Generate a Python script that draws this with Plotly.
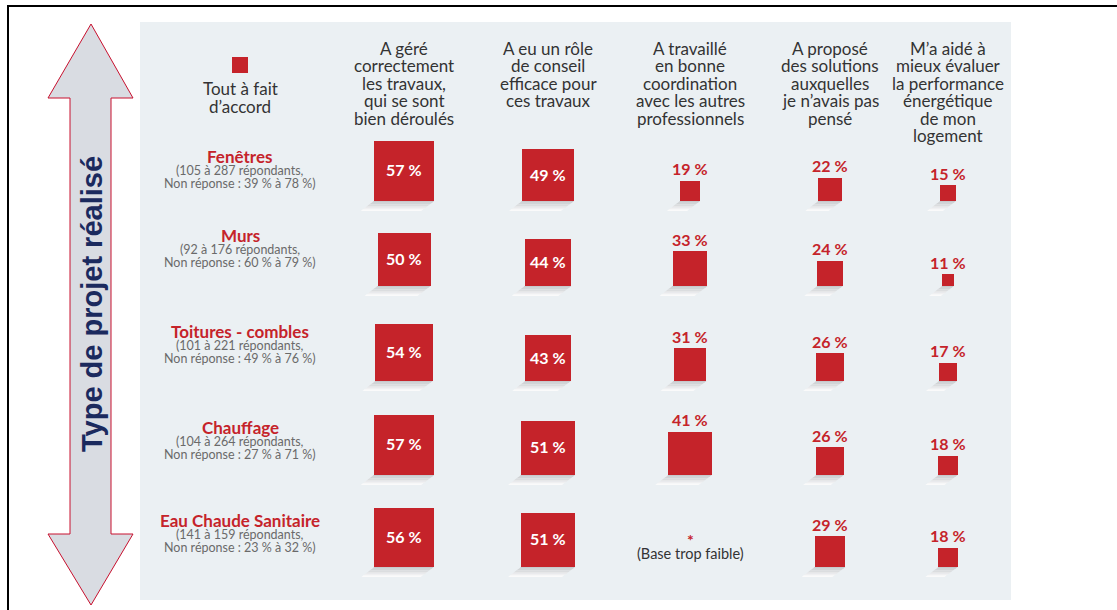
import plotly.graph_objects as go

# ---------------- data ----------------
columns = [
    ["A géré", "correctement", "les travaux,", "qui se sont", "bien déroulés"],
    ["A eu un rôle", "de conseil", "efficace pour", "ces travaux"],
    ["A travaillé", "en bonne", "coordination", "avec les autres", "professionnels"],
    ["A proposé", "des solutions", "auxquelles", "je n’avais pas", "pensé"],
    ["M’a aidé à", "mieux évaluer", "la performance", "énergétique", "de mon", "logement"],
]
row_titles = ["Fenêtres", "Murs", "Toitures - combles", "Chauffage", "Eau Chaude Sanitaire"]
row_bases = [
    ["(105 à 287 répondants,", "Non réponse : 39 % à 78 %)"],
    ["(92 à 176 répondants,", "Non réponse : 60 % à 79 %)"],
    ["(101 à 221 répondants,", "Non réponse : 49 % à 76 %)"],
    ["(104 à 264 répondants,", "Non réponse : 27 % à 71 %)"],
    ["(141 à 159 répondants,", "Non réponse : 23 % à 32 %)"],
]
fenetres = [57, 49, 19, 22, 15]
murs = [50, 44, 33, 24, 11]
toitures = [54, 43, 31, 26, 17]
chauffage = [57, 51, 41, 26, 18]
eau_chaude = [56, 51, None, 29, 18]
values = [fenetres, murs, toitures, chauffage, eau_chaude]
legend_label = ["Tout à fait", "d’accord"]
axis_title = "Type de projet réalisé"
low_base_text = "(Base trop faible)"

# ---------------- layout constants ----------------
W, H = 1117, 610
RED = "#C5232A"
GREY_TXT = "#333333"
SUB_TXT = "#6A6A6A"
NAVY = "#1B2A5E"
FONT = "Lato"
col_x = [404, 548, 690, 830, 948]
row_bottom = [201, 286, 381, 475, 567]
row_label_y = [156, 235, 331, 427, 520]
label_x = 240
K = 1.06  # px per percentage point (square side)

fig = go.Figure()

shapes = []
# outer frame lines
shapes.append(dict(type="line", x0=7, x1=W, y0=6, y1=6, line=dict(color="black", width=2)))
shapes.append(dict(type="line", x0=8, x1=8, y0=5, y1=H, line=dict(color="black", width=2)))
# panel
shapes.append(dict(type="rect", x0=140, x1=1011, y0=22, y1=600, fillcolor="#EBF0F3",
                   line=dict(width=0), layer="below"))
# double arrow
arrow = ("M 91,24 L 133,98 L 111,98 L 111,534 L 133,534 L 91,605 "
         "L 48,534 L 70,534 L 70,98 L 48,98 Z")
shapes.append(dict(type="path", path=arrow, fillcolor="#D9DCE2",
                   line=dict(color="#C8102E", width=1)))
# legend square
shapes.append(dict(type="rect", x0=232, x1=248, y0=57, y1=73, fillcolor=RED, line=dict(width=0)))

# shadows under squares (gradient approximated by slices)
def hexmix(c1, c2, t):
    a = [int(c1[i:i + 2], 16) for i in (1, 3, 5)]
    b = [int(c2[i:i + 2], 16) for i in (1, 3, 5)]
    return "#" + "".join(f"{round(a[i] + (b[i] - a[i]) * t):02X}" for i in range(3))

NS = 6
SH_H, SH_DX = 10, 13
bx, bbase, bh, bw = [], [], [], []
for r, row in enumerate(values):
    for c, v in enumerate(row):
        if v is None:
            continue
        s = v * K
        x0, x1 = col_x[c] - s / 2, col_x[c] + s / 2
        b = row_bottom[r]
        for i in range(NS):
            t0, t1 = i / NS, (i + 1) / NS
            ya, yb = b + SH_H * t0, b + SH_H * t1
            da, db = SH_DX * t0, SH_DX * t1
            p = (f"M {x0 - da},{ya} L {x1 - da},{ya} L {x1 - db},{yb} L {x0 - db},{yb} Z")
            shapes.append(dict(type="path", path=p, fillcolor=hexmix("#C2C5C8", "#FFFFFF", (i + 0.5) / NS),
                               line=dict(width=0)))
        bx.append(col_x[c])
        bbase.append(b)
        bh.append(-s)
        bw.append(s)

fig.add_trace(go.Bar(x=bx, y=bh, base=bbase, width=bw, marker=dict(color=RED, line=dict(width=0)),
                     hoverinfo="skip", showlegend=False))

ann = []

def text_lines(lines, x, y0, dy, size, color, weight="normal"):
    for i, l in enumerate(lines):
        ann.append(dict(x=x, y=y0 + i * dy, text=l, showarrow=False, xanchor="center", yanchor="middle",
                        font=dict(family=FONT, size=size, color=color, weight=weight)))

# column headers
for c, lines in enumerate(columns):
    text_lines(lines, col_x[c], 48, 17.5, 17, GREY_TXT)
# legend label
text_lines(legend_label, label_x, 88, 18, 17, GREY_TXT)
# row labels
for r in range(len(row_titles)):
    text_lines([row_titles[r]], label_x, row_label_y[r], 0, 17, RED, "bold")
    text_lines(row_bases[r], label_x, row_label_y[r] + 14.5, 13, 12.5, SUB_TXT)

# value labels
for r, row in enumerate(values):
    for c, v in enumerate(row):
        b = row_bottom[r]
        if v is None:
            ann.append(dict(x=col_x[c], y=b - 28, text="*", showarrow=False, xanchor="center", yanchor="middle",
                            font=dict(family=FONT, size=16, color=RED, weight="bold")))
            ann.append(dict(x=col_x[c], y=b - 14, text=low_base_text, showarrow=False, xanchor="center",
                            yanchor="middle", font=dict(family=FONT, size=14.5, color=GREY_TXT)))
            continue
        s = v * K
        lab = f"{v}\u202f%"
        if c < 2:
            ann.append(dict(x=col_x[c], y=b - s / 2 - 1, text=lab, showarrow=False, xanchor="center",
                            yanchor="middle", font=dict(family=FONT, size=16, color="white", weight="bold")))
        else:
            ann.append(dict(x=col_x[c], y=b - s - 12, text=lab, showarrow=False, xanchor="center",
                            yanchor="middle", font=dict(family=FONT, size=16, color=RED, weight="bold")))

# arrow title
ann.append(dict(x=92, y=304, text=axis_title, showarrow=False, textangle=-90, xanchor="center", yanchor="middle",
                font=dict(family="Liberation Sans", size=29, color=NAVY, weight="bold")))

for a in ann:
    a["xref"] = "x"
    a["yref"] = "y"
for s in shapes:
    s.setdefault("xref", "x")
    s.setdefault("yref", "y")

fig.update_layout(
    width=W, height=H, margin=dict(l=0, r=0, t=0, b=0),
    paper_bgcolor="white", plot_bgcolor="white",
    xaxis=dict(range=[0, W], visible=False, fixedrange=True),
    yaxis=dict(range=[H, 0], visible=False, fixedrange=True),
    shapes=shapes, annotations=ann, barmode="overlay", bargap=0,
)
fig.write_html("out.html", config={"displayModeBar": False},
               post_script="document.body.style.margin='0';document.body.style.overflow='hidden';")
